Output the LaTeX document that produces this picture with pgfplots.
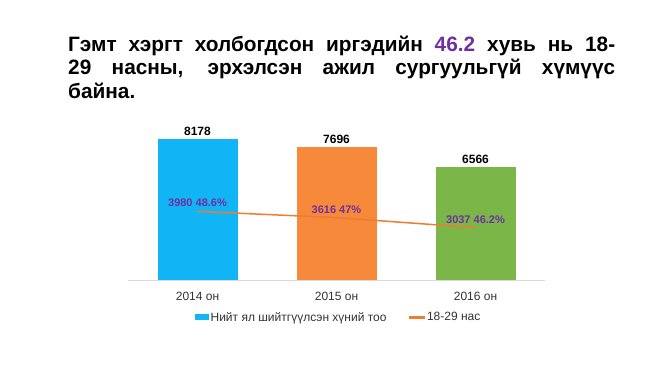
\documentclass[border=0pt]{standalone}
\usepackage{pgfplots}
\pgfplotsset{compat=1.18}
\usepackage{fontspec}
\setmainfont{Liberation Sans}
\definecolor{barblue}{HTML}{11B4F5}
\definecolor{barorange}{HTML}{F7893A}
\definecolor{bargreen}{HTML}{7AB648}
\definecolor{lineor}{HTML}{ED7D31}
\definecolor{lblpurple}{HTML}{7030A0}
\definecolor{txtgray}{HTML}{333333}
\begin{document}
\begin{tikzpicture}[x=1pt,y=1pt]
\path[use as bounding box, fill=white] (0,0) rectangle (650,365);
\node[anchor=north west, inner sep=0pt, text width=547pt, align=justify,
      font=\fontsize{20.8}{23.5}\selectfont\bfseries] at (68,329.5)
  {Гэмт хэргт холбогдсон иргэдийн {\color{lblpurple}46.2} хувь нь 18-\linebreak
   29 насны, эрхэлсэн ажил сургуульгүй хүмүүс\linebreak байна.};
\begin{axis}[
  at={(128pt,85pt)}, anchor=south west,
  scale only axis, width=417pt, height=155.2pt,
  xmin=-0.5, xmax=2.5, ymin=0, ymax=9000,
  clip=false,
  hide y axis,
  axis x line*=bottom,
  x axis line style={draw=gray!30, line width=0.8pt, -},
  xtick={0,1,2}, xticklabels={2014 он,2015 он,2016 он},
  xtick style={draw=none},
  xticklabel style={font=\fontsize{12}{14}\selectfont, text=txtgray, yshift=-9pt},
  /pgf/number format/1000 sep={},
  /pgf/number format/assume math mode=true,
  legend columns=2,
  legend style={draw=none, fill=none, at={(0.5,0)}, anchor=north, yshift=-28pt, xshift=2pt,
    font=\fontsize{12}{14}\selectfont,
    /tikz/every even column/.append style={column sep=20pt}},
]
\addplot[ybar, bar width=80pt, bar shift=0pt, fill=barblue, draw=none,
  nodes near coords, every node near coord/.append style={font=\fontsize{12}{14}\selectfont\bfseries, text=black},
  legend image code/.code={\fill[barblue] (0pt,-3pt) rectangle (14pt,3pt);}]
  coordinates {(0,8178)};
\addlegendentry{\textcolor{txtgray}{Нийт ял шийтгүүлсэн хүний тоо}}
\addplot[ybar, bar width=80pt, bar shift=0pt, fill=barorange, draw=none, forget plot,
  nodes near coords, every node near coord/.append style={font=\fontsize{12}{14}\selectfont\bfseries, text=black}]
  coordinates {(1,7696)};
\addplot[ybar, bar width=80pt, bar shift=0pt, fill=bargreen, draw=none, forget plot,
  nodes near coords, every node near coord/.append style={font=\fontsize{12}{14}\selectfont\bfseries, text=black}]
  coordinates {(2,6566)};
\addplot[sharp plot, no marks, color=lineor, line width=1.5pt,
  point meta=explicit symbolic, nodes near coords,
  every node near coord/.append style={font=\fontsize{11}{13}\selectfont\bfseries, text=lblpurple, anchor=south, inner sep=3.5pt},
  legend image code/.code={\fill[lineor] (0pt,-0.9pt) rectangle (15pt,0.9pt);}]
  coordinates {(0,3980) [3980 48.6\%] (1,3616) [3616 47\%] (2,3037) [3037 46.2\%]};
\addlegendentry{\textcolor{txtgray}{18-29 нас}}
\end{axis}
\end{tikzpicture}
\end{document}
